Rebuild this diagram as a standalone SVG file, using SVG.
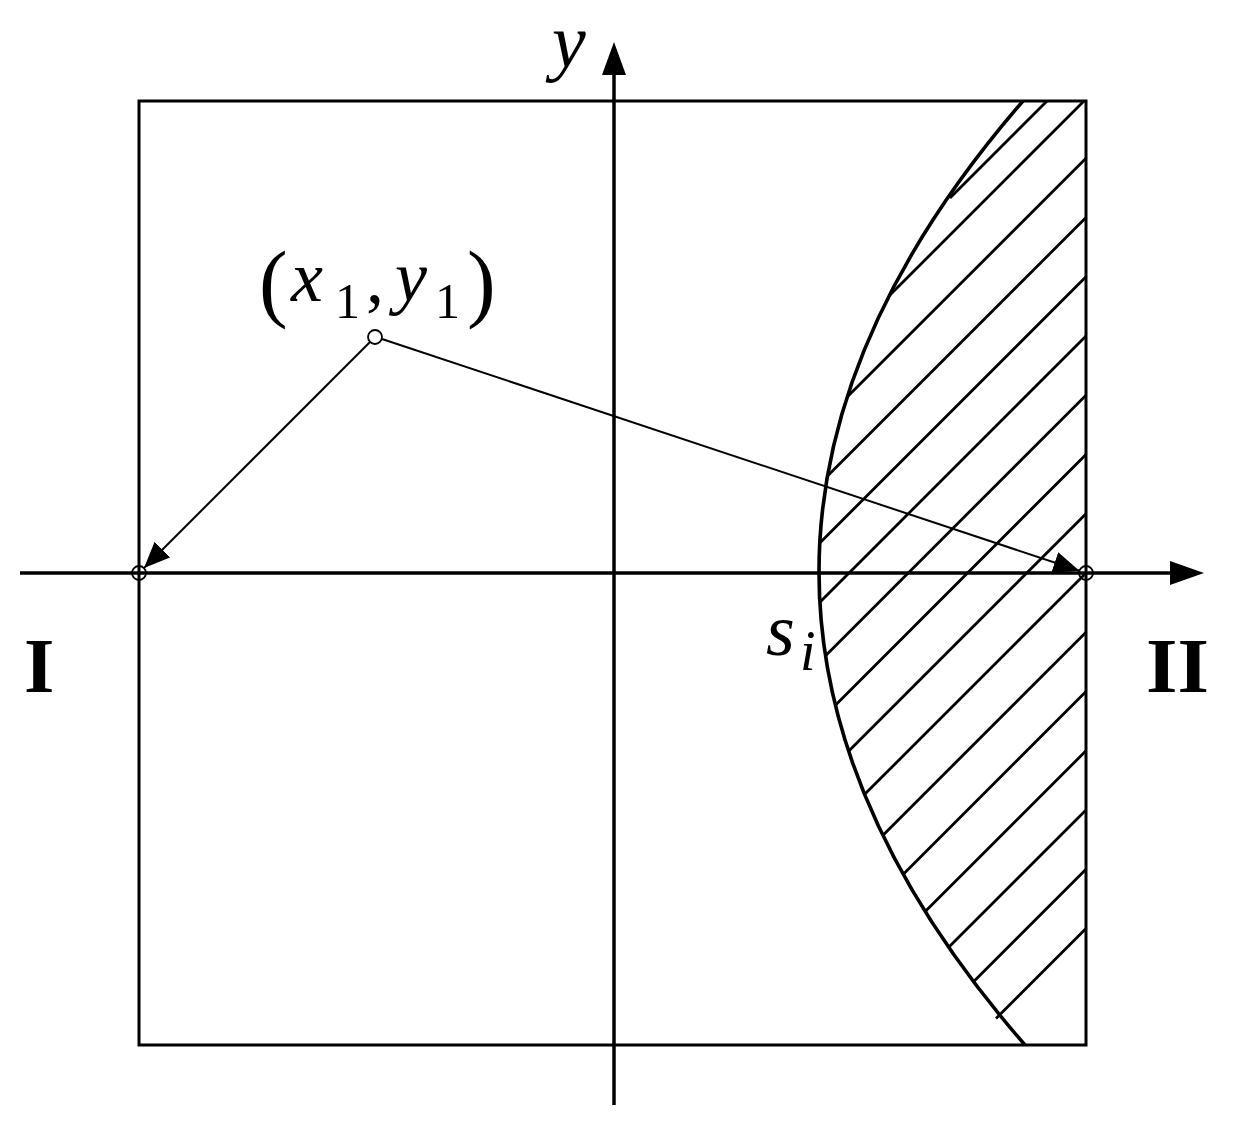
<svg xmlns="http://www.w3.org/2000/svg" width="1236" height="1121" viewBox="0 0 1236 1121">
<style>
.frame{fill:none;stroke:#000;stroke-width:3}
.axis{fill:none;stroke:#000;stroke-width:3.5}
.curve{fill:none;stroke:#000;stroke-width:3.5}
.hatch{fill:none;stroke:#000;stroke-width:2.8}
.conn{fill:none;stroke:#000;stroke-width:2}
.pt{fill:none;stroke:#000;stroke-width:1.8}
text{font-family:'Liberation Serif','DejaVu Serif',serif;fill:#000}
.it{font-style:italic}
.bf{font-weight:bold}
</style>
<defs>
<marker id="arr" markerUnits="userSpaceOnUse" markerWidth="30" markerHeight="26" refX="26" refY="11" orient="auto">
<path d="M0,0 L26,11 L0,22 z" fill="#000"/>
</marker>
</defs>
<rect x="0" y="0" width="1236" height="1121" fill="#fff"/>
<g id="frame">
<rect class="frame" x="139" y="101" width="947" height="944"/>
</g>
<g id="hatching">
<path class="hatch" d="M1047,101 L950,198
M1084,101 L890.2,294.8
M1086,158.25 L847.6,396.6
M1086,217.5 L827.7,475.8
M1086,276.75 L819.8,542.9
M1086,336 L819.8,602.2
M1086,395.25 L825.3,655.9
M1086,454.5 L835.1,705.4
M1086,513.75 L848.3,751.5
M1086,573 L864.2,794.8
M1086,632.25 L882.5,835.7
M1086,691.5 L902.8,874.7
M1086,750.75 L924.7,912
M1086,810 L948.2,947.8
M1086,869.25 L973,982.2
M1086,928.5 L996,1018.5"/>
</g>
<g id="boundary-si">
<path class="curve" d="M1023,101 Q614,573 1025,1045"/>
</g>
<g id="axes">
<line class="axis" x1="20" y1="573" x2="1180" y2="573"/>
<polygon points="1170,561 1204,573 1170,585" fill="#000"/>
<line class="axis" x1="614" y1="1105" x2="614" y2="65"/>
<polygon points="602,75 614,42 626,75" fill="#000"/>
</g>
<g id="connectors">
<line class="conn" x1="370" y1="342" x2="144" y2="568" marker-end="url(#arr)"/>
<line class="conn" x1="382" y1="339" x2="1079.4" y2="570.8" marker-end="url(#arr)"/>
</g>
<g id="point-x1y1">
<circle class="pt" cx="375" cy="337" r="7"/>
</g>
<g id="point-I">
<circle class="pt" cx="139" cy="573" r="7"/>
</g>
<g id="point-II">
<circle class="pt" cx="1086" cy="573" r="7"/>
</g>
<g id="labels">
<text class="it" x="552" y="67" font-size="76">y</text>
<text x="259" y="311" font-size="86">(</text>
<text class="it" x="291" y="301" font-size="72">x</text>
<text x="335" y="318" font-size="50">1</text>
<text x="366" y="302" font-size="72">,</text>
<text class="it" x="395" y="301" font-size="72">y</text>
<text x="435" y="318" font-size="50">1</text>
<text x="467" y="311" font-size="86">)</text>
<text class="it" x="766" y="655" font-size="74">s</text>
<text class="it" x="800" y="670" font-size="56">i</text>
<text class="bf" x="24" y="692" font-size="78">I</text>
<text class="bf" x="1146" y="692" font-size="78" textLength="63" lengthAdjust="spacingAndGlyphs">II</text>
</g>
</svg>
